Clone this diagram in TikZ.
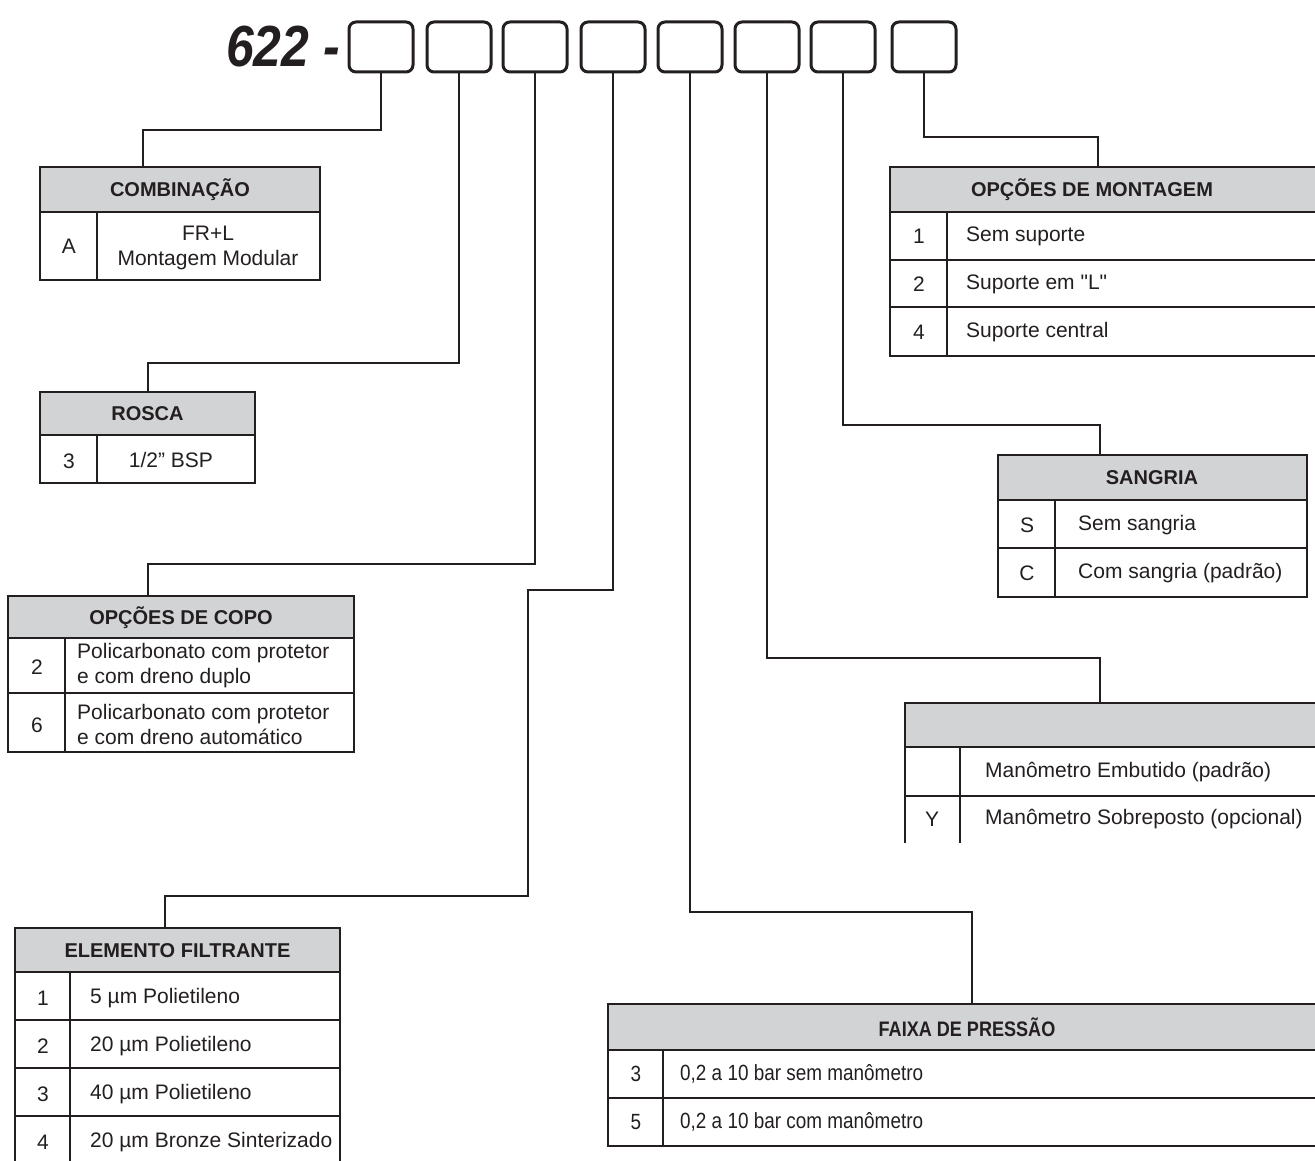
\documentclass[tikz,border=0pt]{standalone}
\usepackage{fontspec}
\setmainfont{Liberation Sans}
\newfontfamily\lsans{Liberation Sans}
\newfontfamily\condsans{Liberation Sans}[FakeStretch=0.86]
\definecolor{inkc}{HTML}{231F20}
\definecolor{hdrgray}{HTML}{D1D3D4}
\begin{document}
\begin{tikzpicture}[x=1pt,y=-1pt,
  codebox/.style={draw=inkc, line width=3pt, rounded corners=7pt, minimum width=64pt, minimum height=50pt, inner sep=0pt, outer sep=0pt},
  hdr/.style={draw=inkc, fill=hdrgray, line width=2.5pt, inner sep=0pt, outer sep=0pt, anchor=north west},
  cellbox/.style={draw=inkc, line width=2.5pt},
  htxt/.style={text=inkc, font=\lsans\bfseries\fontsize{20}{23}\selectfont, inner sep=0pt},
  btxt/.style={text=inkc, font=\lsans\fontsize{21}{25}\selectfont, inner sep=0pt},
  ltxt/.style={btxt, anchor=west, align=left},
  chtxt/.style={text=inkc, font=\condsans\bfseries\fontsize{21}{24}\selectfont, inner sep=0pt},
  cbtxt/.style={text=inkc, font=\condsans\fontsize{22}{25}\selectfont, inner sep=0pt},
  conn/.style={draw=inkc, line width=2pt},
]
\path[use as bounding box] (0,0) rectangle (1315,1161);
\clip (0,0) rectangle (1315,1161);

% title and code boxes
\node[text=inkc, font=\condsans\bfseries\itshape\fontsize{58}{64}\selectfont, anchor=east, inner sep=0pt] (pfx) at (340,47) {622 -};
\node[codebox] (b1) at (381,47) {};
\node[codebox] (b2) at (459,47) {};
\node[codebox] (b3) at (535,47) {};
\node[codebox] (b4) at (613,47) {};
\node[codebox] (b5) at (690,47) {};
\node[codebox] (b6) at (767,47) {};
\node[codebox] (b7) at (843,47) {};
\node[codebox] (b8) at (924,47) {};

% COMBINACAO
\node[hdr, minimum width=280pt, minimum height=45pt] (h1) at (40,167) {};
\node[htxt] (h1t) at (180,190) {COMBINAÇÃO};
\draw[cellbox] (40,212) rectangle (320,280);
\draw[cellbox] (97,212) -- (97,280);
\node[btxt] (t1a) at (69,246) {A};
\node[btxt, align=center] (t1b) at (208,248) {FR+L\\Montagem Modular};

% ROSCA
\node[hdr, minimum width=215pt, minimum height=43pt] (h2) at (40,392) {};
\node[htxt] (h2t) at (147.5,414) {ROSCA};
\draw[cellbox] (40,435) rectangle (255,483);
\draw[cellbox] (97,435) -- (97,483);
\node[btxt] (t2a) at (69,461) {3};
\node[btxt] (t2b) at (171,460) {1/2” BSP};

% OPCOES DE COPO
\node[hdr, minimum width=346pt, minimum height=42pt] (h3) at (8,596) {};
\node[htxt] (h3t) at (181,617.5) {OPÇÕES DE COPO};
\draw[cellbox] (8,638) rectangle (354,693);
\draw[cellbox] (8,693) rectangle (354,752);
\draw[cellbox] (65,638) -- (65,752);
\node[btxt] (t3a) at (37,667) {2};
\node[ltxt] (t3b) at (77,666) {Policarbonato com protetor\\e com dreno duplo};
\node[btxt] (t3c) at (37,725) {6};
\node[ltxt] (t3d) at (77,724) {Policarbonato com protetor\\e com dreno automático};

% ELEMENTO FILTRANTE
\node[hdr, minimum width=325pt, minimum height=44pt] (h4) at (15,928) {};
\node[htxt] (h4t) at (177.5,950.5) {ELEMENTO FILTRANTE};
\draw[cellbox] (15,972) rectangle (340,1020);
\draw[cellbox] (15,1020) rectangle (340,1068);
\draw[cellbox] (15,1068) rectangle (340,1116);
\draw[cellbox] (15,1116) rectangle (340,1180);
\draw[cellbox] (70,972) -- (70,1180);
\node[btxt] (t4a) at (43,998) {1};
\node[ltxt] (t4b) at (90,998) {5 µm Polietileno};
\node[btxt] (t4c) at (43,1046) {2};
\node[ltxt] (t4d) at (90,1046) {20 µm Polietileno};
\node[btxt] (t4e) at (43,1094) {3};
\node[ltxt] (t4f) at (90,1094) {40 µm Polietileno};
\node[btxt] (t4g) at (43,1142) {4};
\node[ltxt] (t4h) at (90,1142) {20 µm Bronze Sinterizado};

% FAIXA DE PRESSAO
\node[hdr, minimum width=730pt, minimum height=46pt] (h5) at (608,1004) {};
\node[chtxt] (h5t) at (967,1027) {FAIXA DE PRESSÃO};
\draw[cellbox] (608,1050) rectangle (1340,1098);
\draw[cellbox] (608,1098) rectangle (1340,1146);
\draw[cellbox] (663,1050) -- (663,1146);
\node[cbtxt] (t5a) at (636,1074) {3};
\node[cbtxt, anchor=west] (t5b) at (680,1074) {0,2 a 10 bar sem manômetro};
\node[cbtxt] (t5c) at (636,1122) {5};
\node[cbtxt, anchor=west] (t5d) at (680,1122) {0,2 a 10 bar com manômetro};

% MANOMETRO
\node[hdr, minimum width=430pt, minimum height=44pt] (h6) at (905,703) {};
\draw[cellbox] (905,747) rectangle (1340,796);
\draw[cellbox] (905,796) -- (905,843);
\draw[cellbox] (960,747) -- (960,843);
\node[ltxt] (t6b) at (985,772) {Manômetro Embutido (padrão)};
\node[btxt] (t6c) at (932,819) {Y};
\node[ltxt] (t6d) at (985,819) {Manômetro Sobreposto (opcional)};

% SANGRIA
\node[hdr, minimum width=309pt, minimum height=45pt] (h7) at (998,455) {};
\node[htxt] (h7t) at (1152,478) {SANGRIA};
\draw[cellbox] (998,500) rectangle (1307,548);
\draw[cellbox] (998,548) rectangle (1307,597);
\draw[cellbox] (1055,500) -- (1055,597);
\node[btxt] (t7a) at (1027,525) {S};
\node[ltxt] (t7b) at (1078,525) {Sem sangria};
\node[btxt] (t7c) at (1027,573) {C};
\node[ltxt] (t7d) at (1078,573) {Com sangria (padrão)};

% OPCOES DE MONTAGEM
\node[hdr, minimum width=440pt, minimum height=45pt] (h8) at (890,167) {};
\node[htxt] (h8t) at (1092,190) {OPÇÕES DE MONTAGEM};
\draw[cellbox] (890,212) rectangle (1340,260);
\draw[cellbox] (890,260) rectangle (1340,307);
\draw[cellbox] (890,307) rectangle (1340,356);
\draw[cellbox] (947,212) -- (947,356);
\node[btxt] (t8a) at (919,236) {1};
\node[ltxt] (t8b) at (966,236) {Sem suporte};
\node[btxt] (t8c) at (919,284) {2};
\node[ltxt] (t8d) at (966,284) {Suporte em "L"};
\node[btxt] (t8e) at (919,332) {4};
\node[ltxt] (t8f) at (966,332) {Suporte central};

% connectors
\coordinate (k1) at (143,130);
\coordinate (k2) at (148,363);
\coordinate (k3) at (148,564);
\coordinate (k4a) at (528,590);
\coordinate (k4b) at (165,896);
\coordinate (k5) at (972,912);
\coordinate (k6) at (1100,658);
\coordinate (k7) at (1100,425);
\coordinate (k8) at (1098,137);
\draw[conn] (b1.south) |- (k1) -- (k1 |- h1.north);
\draw[conn] (b2.south) |- (k2) -- (k2 |- h2.north);
\draw[conn] (b3.south) |- (k3) -- (k3 |- h3.north);
\draw[conn] (b4.south) |- (k4a) |- (k4b) -- (k4b |- h4.north);
\draw[conn] (b5.south) |- (k5) -- (k5 |- h5.north);
\draw[conn] (b6.south) |- (k6) -- (k6 |- h6.north);
\draw[conn] (b7.south) |- (k7) -- (k7 |- h7.north);
\draw[conn] (b8.south) |- (k8) -- (k8 |- h8.north);
\end{tikzpicture}
\end{document}
